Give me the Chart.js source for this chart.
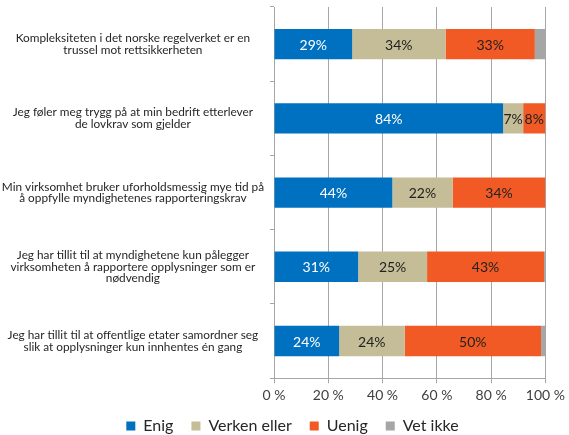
<!DOCTYPE html>
<html>
<head>
<meta charset="utf-8">
<script src="https://cdn.jsdelivr.net/npm/chart.js@4"></script>
<style>
  body { margin: 0; background: #fff; }
  #wrap { width: 569px; height: 435px; position: relative; }
</style>
</head>
<body>
<div id="wrap"><canvas id="surveyChart"></canvas></div>
<script>
// categories (statements), split into lines like the original
const categories = [
    ['Kompleksiteten i det norske regelverket er en', 'trussel mot rettsikkerheten'],
    ['Jeg føler meg trygg på at min bedrift etterlever', 'de lovkrav som gjelder'],
    ['Min virksomhet bruker uforholdsmessig mye tid på', 'å oppfylle myndighetenes rapporteringskrav'],
    ['Jeg har tillit til at myndighetene kun pålegger', 'virksomheten å rapportere opplysninger som er', 'nødvendig'],
    ['Jeg har tillit til at offentlige etater samordner seg', 'slik at opplysninger kun innhentes én gang']
];

// series values in percent
const enig = [28.8, 84.4, 43.6, 31.0, 24.0];
const verken = [34.4, 7.4, 22.2, 25.4, 24.1];
const uenig = [32.9, 8.2, 34.2, 43.1, 50.3];
const vetIkke = [3.9, 0, 0, 0.5, 1.6];

const xTicks = [0, 20, 40, 60, 80, 100];

const FONT = 'Lato';

// small plugin that writes the percentages inside the bars
const barLabels = {
    id: 'barLabels',
    afterDatasetsDraw(chart) {
        const ctx = chart.ctx;
        ctx.save();
        ctx.font = '14px ' + FONT;
        ctx.textAlign = 'center';
        ctx.textBaseline = 'middle';
        chart.data.datasets.forEach((ds, i) => {
            if (!ds.showLabels) return;
            const meta = chart.getDatasetMeta(i);
            meta.data.forEach((bar, j) => {
                const v = ds.data[j];
                if (v < 3) return;
                ctx.fillStyle = ds.labelColor;
                ctx.fillText(Math.round(v) + '%', (bar.x + bar.base) / 2, bar.y + 1);
            });
        });
        ctx.restore();
    }
};

// nudge the legend box a bit up and to the right, like the original
const legendNudge = {
    id: 'legendNudge',
    afterLayout(chart) {
        const lg = chart.legend;
        if (!lg) return;
        lg.top -= 8; lg.bottom -= 8;
        lg.left += 18; lg.right += 18;
    }
};

const ctx = document.getElementById('surveyChart').getContext('2d');
const chart = new Chart(ctx, {
    type: 'bar',
    data: {
        labels: categories,
        datasets: [
            { label: 'Enig', data: enig, backgroundColor: '#0070c0', showLabels: true, labelColor: '#ffffff' },
            { label: 'Verken eller', data: verken, backgroundColor: '#c4bd97', showLabels: true, labelColor: '#222222' },
            { label: 'Uenig', data: uenig, backgroundColor: '#f15a24', showLabels: true, labelColor: '#222222' },
            { label: 'Vet ikke', data: vetIkke, backgroundColor: '#a6a6a6', showLabels: false }
        ]
    },
    options: {
        indexAxis: 'y',
        responsive: true,
        maintainAspectRatio: false,
        animation: false,
        datasets: { bar: { categoryPercentage: 1, barPercentage: 0.41 } },
        layout: { padding: { left: 0, right: 20, top: 7, bottom: -17 } },
        scales: {
            x: {
                stacked: true,
                min: 0,
                max: 100,
                afterBuildTicks: (scale) => { scale.ticks = xTicks.map(v => ({ value: v })); },
                ticks: {
                    callback: v => v + ' %',
                    color: '#404040',
                    font: { family: FONT, size: 14 },
                    padding: 4
                },
                grid: { color: '#a6a6a6', lineWidth: 1, tickLength: 5 },
                border: { color: '#a6a6a6' }
            },
            y: {
                stacked: true,
                ticks: {
                    crossAlign: 'center',
                    color: '#262626',
                    font: { family: FONT, size: 11.8, lineHeight: 1.0 },
                    padding: 6
                },
                grid: { drawOnChartArea: false, tickLength: 4, color: '#a6a6a6' },
                border: { color: '#a6a6a6' },
                afterFit: (scale) => {
                    scale.width = 274;
                    scale.paddingTop = 0;
                    scale.paddingBottom = 0;
                }
            }
        },
        plugins: {
            legend: {
                position: 'bottom',
                labels: {
                    boxWidth: 9,
                    boxHeight: 9,
                    padding: 18,
                    color: '#262626',
                    font: { family: FONT, size: 16 }
                }
            },
            tooltip: { enabled: false }
        }
    },
    plugins: [barLabels, legendNudge]
});
</script>
</body>
</html>
